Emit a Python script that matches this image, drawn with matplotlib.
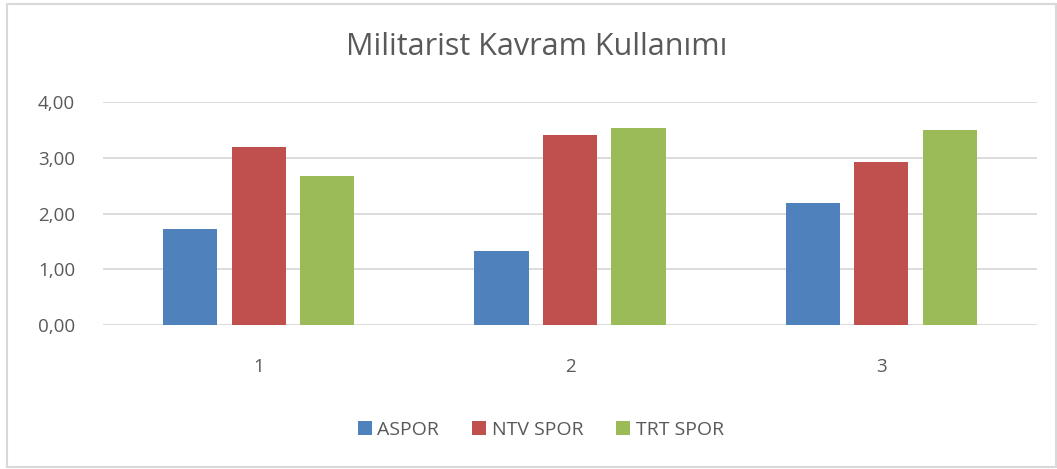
import numpy as np
import matplotlib.pyplot as plt
from matplotlib.patches import Rectangle

categories = ["1", "2", "3"]
series_names = ["ASPOR", "NTV SPOR", "TRT SPOR"]
aspor = [1.73, 1.33, 2.19]
ntv_spor = [3.20, 3.41, 2.92]
trt_spor = [2.67, 3.54, 3.50]
yticks = [0, 1, 2, 3, 4]
ytick_labels = ["0,00", "1,00", "2,00", "3,00", "4,00"]

colors = ["#4F81BD", "#C0504D", "#9BBB59"]
text_color = "#595959"
plt.rcParams['font.family'] = ['Open Sans', 'DejaVu Sans']

fig = plt.figure(figsize=(10.57, 4.69), dpi=100)
ax = fig.add_axes([103 / 1057, 1 - 325 / 469, 934 / 1057, 223 / 469])

x = np.arange(len(categories))
width = 0.174
step = 0.22
for i, (name, vals) in enumerate(zip(series_names, [aspor, ntv_spor, trt_spor])):
  ax.bar(x + (i - 1) * step, vals, width, color=colors[i], label=name, zorder=3)

ax.set_xlim(-0.5, len(categories) - 0.5)
ax.set_ylim(0, 4)
ax.set_yticks(yticks)
ax.set_yticklabels(ytick_labels)
ax.set_xticks(x)
ax.set_xticklabels(categories)
ax.yaxis.grid(True, color="#D9D9D9", linewidth=1.3, zorder=0)
for s in ax.spines.values():
  s.set_visible(False)
ax.tick_params(axis="both", length=0, labelsize=13.5, colors=text_color)
ax.tick_params(axis="y", pad=20)
ax.tick_params(axis="x", pad=24)

fig.text(537 / 1057, 1 - 47 / 469, "Militarist Kavram Kullanımı", ha="center", va="center",
         fontsize=22, color=text_color)

leg = fig.legend(loc="center", bbox_to_anchor=(541 / 1057, 1 - 430 / 469), ncol=3, frameon=False,
                 fontsize=14, handlelength=0.7, handleheight=0.7, handletextpad=0.3,
                 columnspacing=1.7, labelcolor=text_color)

fig.patches.append(Rectangle((7 / 1057, 1 - 467 / 469), 1049 / 1057, 463 / 469,
                             transform=fig.transFigure, fill=False, edgecolor="#D9D9D9", linewidth=1.5))

fig.savefig("out.png", dpi=100)
